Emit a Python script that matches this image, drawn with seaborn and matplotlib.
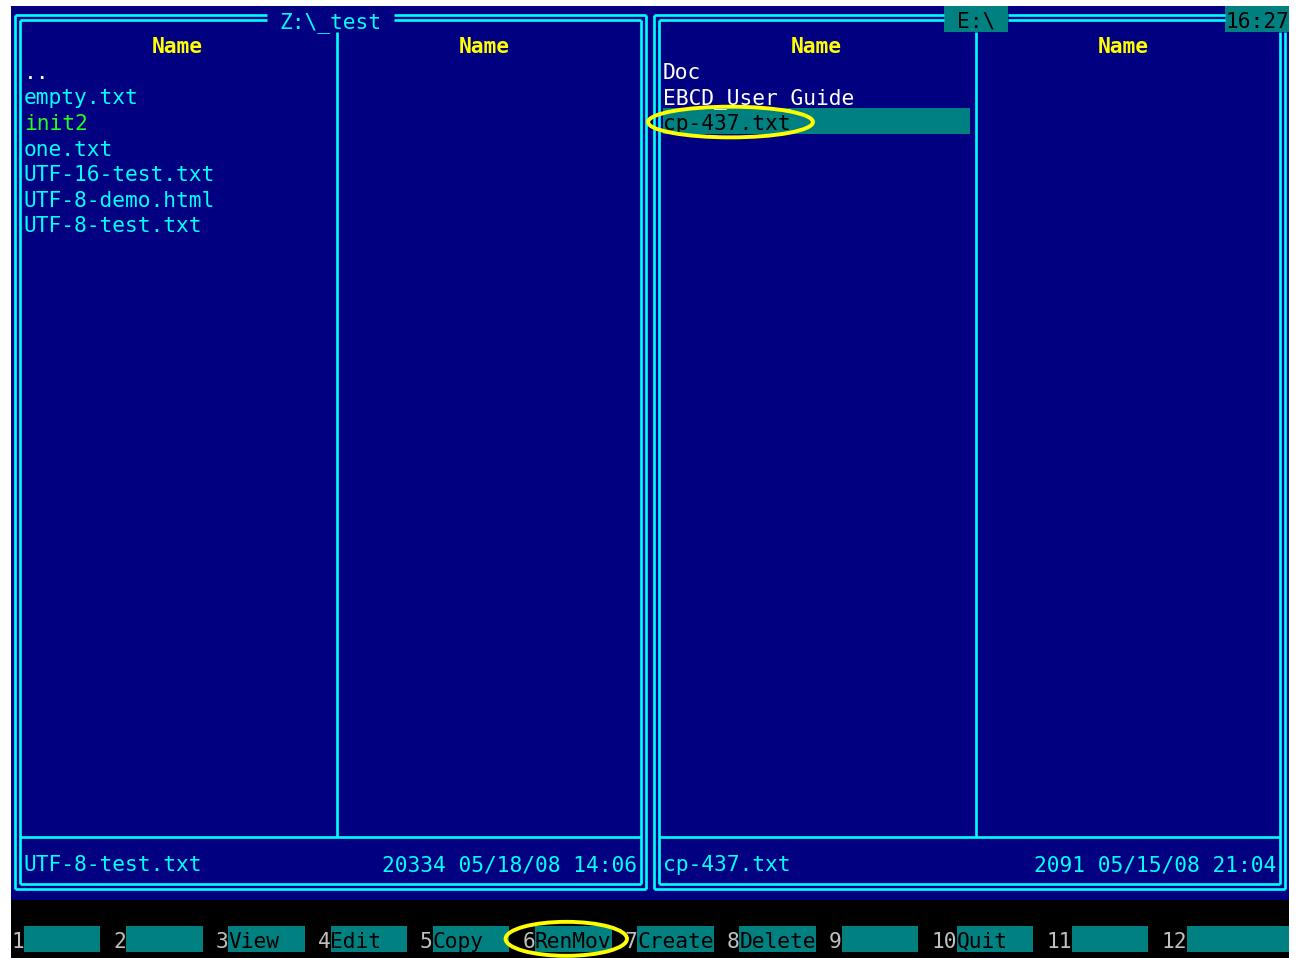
import numpy as np
import matplotlib
matplotlib.use("Agg")
import matplotlib.pyplot as plt
import seaborn as sns
from matplotlib.colors import ListedColormap
from matplotlib.patches import Ellipse

# ---------------- data ----------------
left_title = "Z:\\_test"
right_title = "E:\\"
clock_text = "16:27"
column_header = "Name"
left_files = ["..", "empty.txt", "init2", "one.txt",
              "UTF-16-test.txt", "UTF-8-demo.html", "UTF-8-test.txt"]
left_kinds = ["parent", "file", "exec", "file", "file", "file", "file"]
right_files = ["Doc", "EBCD_User_Guide", "cp-437.txt"]
right_kinds = ["dir", "dir", "cursor"]
left_info_name = "UTF-8-test.txt"
left_info_detail = "20334 05/18/08 14:06"
right_info_name = "cp-437.txt"
right_info_detail = "2091 05/15/08 21:04"
key_numbers = ["1", "2", "3", "4", "5", "6", "7", "8", "9", "10", "11", "12"]
key_labels = ["", "", "View", "Edit", "Copy", "RenMov", "Create", "Delete",
              "", "Quit", "", ""]
circled_keys = ["6"]
circled_files = ["cp-437.txt"]

# ---------------- colours ----------------
BLUE = "#000080"
BLACK = "#000000"
TEAL = "#008080"
CYAN = "#00FFFF"
YELLOW = "#FFFF00"
WHITE = "#FFFFFF"
GREEN = "#22FF22"
GRAY = "#C0C0C0"
kind_color = {"parent": WHITE, "file": CYAN, "exec": GREEN, "dir": WHITE, "cursor": BLACK}

# ---------------- screen grid ----------------
COLS, ROWS = 100, 37
W, H = 1297, 958
scr_left, scr_top = 11, 6
cell_w = 1278 / COLS
cell_h = 952 / 37.25

grid = np.zeros((ROWS, COLS))
grid[35:, :] = 1                     # black command / key area
grid[0, 73:78] = 2                   # active panel title
grid[0, 95:100] = 2                  # clock
cursor_row = 2 + right_kinds.index("cursor")
grid[cursor_row, 51:75] = 2          # cursor bar

# key positions
key_pos = []
c = 0
for i, (n, lab) in enumerate(zip(key_numbers, key_labels)):
    box0 = c + len(n)
    box1 = box0 + 6 if i < len(key_numbers) - 1 else COLS
    key_pos.append((c, box0, box1))
    grid[36, box0:box1] = 2
    c = box0 + 7

sns.set_theme(style="white")
plt.rcParams["font.family"] = ["DejaVu Sans Mono", "DejaVu Sans"]

fig = plt.figure(figsize=(W / 100, H / 100), dpi=100)
fig.patch.set_facecolor("white")
ax = fig.add_axes([scr_left / W, 0, 1278 / W, 952 / H])
sns.heatmap(grid, cmap=ListedColormap([BLUE, BLACK, TEAL]), vmin=-0.5, vmax=2.5,
            cbar=False, ax=ax, xticklabels=False, yticklabels=False, linewidths=0)
ax.set_xlim(0, COLS)
ax.set_ylim(37.25, 0)
ax.set_facecolor(BLACK)
for s in ax.spines.values():
    s.set_visible(False)
ax.set_xticks([])
ax.set_yticks([])

dX = 2.6 / cell_w
dY = 2.5 / cell_h
shift = 1.2 / cell_h
LW = 1.9


def hl(y, x0, x1):
    ax.plot([x0, x1], [y, y], color=CYAN, lw=LW, solid_capstyle="butt", zorder=3)


def vl(x, y0, y1):
    ax.plot([x, x], [y0, y1], color=CYAN, lw=LW, solid_capstyle="butt", zorder=3)


def panel(c0, c1, gaps, right_top):
    xlo, xli = c0 + 0.5 - dX, c0 + 0.5 + dX
    xri, xro = c1 + 0.5 - dX, c1 + 0.5 + dX
    ytc, ybc = 0.5 - shift, 34.5 - shift
    yto, yti = ytc - dY, ytc + dY
    ybi, ybo = ybc - dY, ybc + dY
    vl(xlo, yto, ybo)
    vl(xli, yti, ybi)
    if right_top is None:
        vl(xro, yto, ybo)
        vl(xri, yti, ybi)
        tr_o, tr_i = xro, xri
    else:
        vl(xro, right_top, ybo)
        vl(xri, right_top, ybi)
        tr_o, tr_i = None, None
    hl(ybo, xlo, xro)
    hl(ybi, xli, xri)
    segs_o, segs_i = [], []
    start_o, start_i = xlo, xli
    for g0, g1 in gaps:
        segs_o.append((start_o, g0))
        segs_i.append((start_i, g0))
        start_o = start_i = g1
    if tr_o is not None:
        segs_o.append((start_o, tr_o))
        segs_i.append((start_i, tr_i))
    for a, b in segs_o:
        hl(yto, a, b)
    for a, b in segs_i:
        hl(yti, a, b)
    hl(32.5, xli, xri)
    mid = c0 + 25.5
    vl(mid, 1.0, 32.5)


panel(0, 49, [(20, 30)], None)
panel(50, 99, [(73, 78), (95, 100)], 1.0)

FS = 15.3
BASE = 0.85


def put(col, row, s, color, ha="left", weight="normal"):
    ax.text(col, row + BASE, s, color=color, fontsize=FS, ha=ha, va="baseline",
            fontweight=weight, zorder=4)


# titles
put(21, 0, left_title, CYAN)
put(74, 0, right_title, BLACK)
put(95, 0, clock_text, BLACK)

# headers
for hc in (11, 35, 61, 85):
    put(hc, 1, column_header, YELLOW, weight="bold")

# file lists
for i, (f, k) in enumerate(zip(left_files, left_kinds)):
    put(1, 2 + i, f, kind_color[k])
for i, (f, k) in enumerate(zip(right_files, right_kinds)):
    put(51, 2 + i, f, kind_color[k])

# info lines
put(1, 33, left_info_name, CYAN)
put(49, 33, left_info_detail, CYAN, ha="right")
put(51, 33, right_info_name, CYAN)
put(99, 33, right_info_detail, CYAN, ha="right")

# function keys
for (c0, b0, b1), n, lab in zip(key_pos, key_numbers, key_labels):
    put(c0, 36, n, GRAY)
    if lab:
        put(b0, 36, lab, BLACK)

# annotation ellipses
for f in circled_files:
    r = 2 + right_files.index(f)
    ax.add_patch(Ellipse((51 + 5.3, r + 0.54), 12.9, 1.2, fill=False,
                         edgecolor=YELLOW, lw=2.8, zorder=6))
for kname in circled_keys:
    idx = key_numbers.index(kname)
    c0, b0, b1 = key_pos[idx]
    ax.add_patch(Ellipse((c0 + 3.45, 36.5), 9.5, 1.33, fill=False,
                         edgecolor=YELLOW, lw=2.8, zorder=6))

fig.savefig("out.png", dpi=100, facecolor="white")
